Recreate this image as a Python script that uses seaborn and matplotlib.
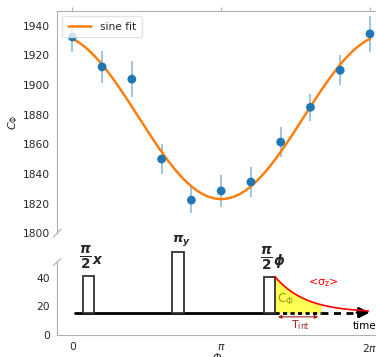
import numpy as np
import pandas as pd
import seaborn as sns
import matplotlib.pyplot as plt

# measured C_phi vs phase (11 points over one period)
phase = np.linspace(0, 2 * np.pi, 11)
c_phi = [1932.5, 1912.3, 1904.0, 1850.0, 1822.3, 1828.5, 1834.5, 1861.5, 1885.0, 1910.0, 1934.6]
c_err = [10, 11, 12, 10, 9, 11, 10, 10, 9, 10, 12]

# sine fit parameters: C - A*cos(w*(phi - phi0))
fit_offset = 1878.5
fit_amp = 55.5
fit_freq = 0.9
fit_center = np.pi

# pulse sequence sketch (lower panel)
pulse_left = [0.23, 2.11, 4.05]
pulse_width = [0.23, 0.25, 0.23]
pulse_height = [41.2, 58.2, 40.7]
pulse_labels = [r"$\frac{\boldsymbol{\pi}}{\mathbf{2}}_{\boldsymbol{x}}$",
                r"$\boldsymbol{\pi}_{\boldsymbol{y}}$",
                r"$\frac{\boldsymbol{\pi}}{\mathbf{2}}_{\boldsymbol{\phi}}$"]
label_size = [14, 9.5, 14]
baseline = 15.6
decay_tau = 0.64
t_int_end = 5.25

sns.set_style("white")
plt.rcParams["font.family"] = ["DejaVu Sans"]

fig = plt.figure(figsize=(3.76, 3.57), dpi=100)
ax1 = fig.add_axes([0.152, 0.347, 0.848, 0.622])
ax2 = fig.add_axes([0.152, 0.062, 0.848, 0.204], sharex=ax1)

spine_col = "#b0b0b0"

xf = np.linspace(0, 2 * np.pi, 300)
fit = pd.DataFrame({"phi": xf,
                    "C": fit_offset - fit_amp * np.cos(fit_freq * (xf - fit_center))})

ax1.errorbar(phase, c_phi, yerr=c_err, fmt="none", ecolor="#1f77b4", alpha=0.5, lw=1.2, zorder=1)
sns.lineplot(data=fit, x="phi", y="C", color="#ff7f0e", lw=1.8, label="sine fit", ax=ax1, zorder=2)
sns.scatterplot(x=phase, y=c_phi, color="#1f77b4", s=40, edgecolor="none", ax=ax1, zorder=3)

ax1.set_xlim(-0.32, 6.41)
ax1.set_ylim(1800, 1950)
ax1.set_yticks(np.arange(1800, 1941, 20))
ax1.set_ylabel(r"$C_\Phi$", fontsize=8, labelpad=2)
ax1.set_xlabel("")
ax1.xaxis.tick_top()
ax1.tick_params(axis="x", labeltop=False, length=3, color=spine_col)
ax1.tick_params(axis="y", labelsize=7.7, length=3, color=spine_col, pad=2)
for s in ["bottom", "right"]:
    ax1.spines[s].set_visible(False)
for s in ["top", "left"]:
    ax1.spines[s].set_color(spine_col)
ax1.legend(loc="upper left", fontsize=7.7, handlelength=2.2, borderpad=0.5,
           framealpha=0.8, edgecolor="#dddddd")

# lower panel: pulse sequence
for left, w, h, lab, fs in zip(pulse_left, pulse_width, pulse_height, pulse_labels, label_size):
    ax2.add_patch(plt.Rectangle((left, baseline), w, h - baseline, facecolor="white",
                                edgecolor="#333333", lw=1.3, clip_on=False, zorder=3))
    ax2.text(left + w / 2 + 0.06, h + 2.5, lab, ha="center", va="bottom",
             fontsize=fs, clip_on=False)

p_end = pulse_left[2] + pulse_width[2]
ax2.plot([0.06, p_end], [baseline, baseline], color="black", lw=2, zorder=2)
ax2.plot([p_end, t_int_end], [baseline, baseline], color="black", lw=2, ls=(0, (1.5, 1.2)), zorder=2)
ax2.plot([t_int_end, 6.0], [baseline, baseline], color="black", lw=2, ls=(0, (2.5, 2)), zorder=2)
ax2.annotate("", xy=(6.34, baseline), xytext=(5.95, baseline),
             arrowprops=dict(arrowstyle="-|>", color="black", lw=2, mutation_scale=15), zorder=2)

xd = np.linspace(p_end, 6.25, 200)
yd = baseline + (pulse_height[2] - baseline) * np.exp(-(xd - p_end) / decay_tau)
ax2.plot(xd, yd, color="red", lw=1.2, zorder=4, clip_on=False)
mask = xd <= t_int_end
ax2.fill_between(xd[mask], baseline, yd[mask], color="#ffff55", zorder=1)

ax2.annotate("", xy=(p_end, 12.6), xytext=(t_int_end, 12.6),
             arrowprops=dict(arrowstyle="<|-|>", color="#a02020", lw=0.8, mutation_scale=5))
ax2.text(4.81, 6.5, r"$\mathrm{T_{int}}$", color="#a02020", fontsize=8, ha="center", va="center")
ax2.text(4.50, 24.5, r"$\mathrm{C_\Phi}$", color="#9a9a10", fontsize=9, ha="center", va="center")
ax2.text(5.30, 36.5, r"<$\mathrm{\sigma_z}$>", color="red", fontsize=8, ha="center", va="center")
ax2.text(6.16, 6.3, "time", color="black", fontsize=7.5, ha="center", va="center")

ax2.set_ylim(0, 51)
ax2.set_yticks([0, 20, 40])
ax2.set_xticks([0, np.pi, 2 * np.pi])
ax2.set_xticklabels(["0", r"$\pi$", r"$2\pi$"])
ax2.set_xlabel(r"$\Phi$", fontsize=8, labelpad=-2)
ax2.tick_params(labelsize=7.7, length=3, color=spine_col, pad=2)
for s in ["top", "right"]:
    ax2.spines[s].set_visible(False)
for s in ["bottom", "left"]:
    ax2.spines[s].set_color(spine_col)

# small break marks on the split y axis
d = 0.012
kw = dict(color=spine_col, lw=0.8, clip_on=False)
ax1.plot([-d, d], [-d * 1.5, d * 1.5], transform=ax1.transAxes, **kw)
ax2.plot([-d, d], [1 - d * 4, 1 + d * 4], transform=ax2.transAxes, **kw)

fig.savefig("out.png", dpi=100)
